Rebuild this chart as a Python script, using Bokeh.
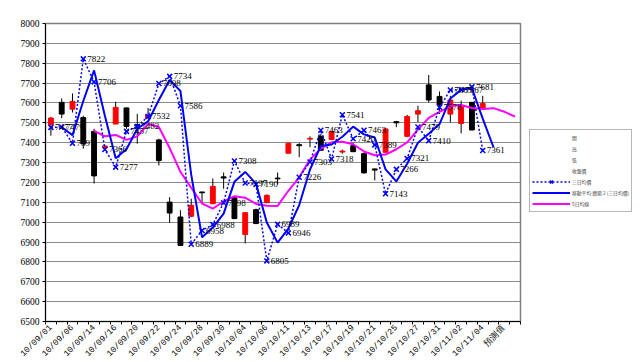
from math import pi
from bokeh.plotting import figure
from bokeh.models import FixedTicker, Legend, LegendItem, Range1d
from bokeh.core.properties import value
from bokeh.embed import file_html
from bokeh.resources import INLINE

# category tick labels (one every second category)
tick_labels = ["10/09/01", "10/09/06", "10/09/14", "10/09/16", "10/09/20", "10/09/22",
               "10/09/24", "10/09/28", "10/09/30", "10/10/04", "10/10/06", "10/10/11",
               "10/10/13", "10/10/17", "10/10/19", "10/10/21", "10/10/25", "10/10/27",
               "10/10/31", "10/11/02", "10/11/04", "預測值"]
n_categories = 44

# candles
opens = [7491, 7603, 7569, 7527, 7457, 7375, 7494, 7575, 7490, 7525, 7414, 7101, 7026, 7030,
         7152, 7093, 7228, 7123, 6938, 7063, 7098, 7222, 7347, 7390, 7418, 7432, 7416, 7353,
         7385, 7345, 7268, 7352, 7506, 7432, 7544, 7691, 7633, 7544, 7497, 7603, 7574]
highs = [7530, 7623, 7648, 7536, 7470, 7390, 7606, 7578, 7545, 7575, 7420, 7126, 7060, 7118,
         7152, 7220, 7250, 7125, 7050, 7068, 7140, 7250, 7399, 7398, 7432, 7445, 7460, 7365,
         7400, 7350, 7270, 7475, 7510, 7540, 7586, 7741, 7658, 7636, 7611, 7605, 7636]
lows = [7435, 7524, 7552, 7370, 7195, 7368, 7494, 7470, 7395, 7520, 7285, 6996, 6880, 7025,
        7101, 7090, 7168, 7015, 6893, 6990, 7098, 7190, 7347, 7327, 7378, 7360, 7414, 7345,
        7352, 7245, 7210, 7350, 7478, 7428, 7502, 7603, 7544, 7502, 7447, 7462, 7570]
closes = [7524, 7544, 7608, 7394, 7233, 7383, 7578, 7482, 7485, 7540, 7310, 7046, 6883, 7085,
          7148, 7180, 7222, 7018, 7048, 6993, 7135, 7218, 7397, 7385, 7422, 7362, 7456, 7358,
          7355, 7248, 7262, 7469, 7500, 7532, 7561, 7615, 7590, 7615, 7581, 7464, 7597]

# three-day average (dotted, labelled), starts at category 0
avg3 = [7477, 7479, 7397, 7822, 7706, 7366, 7277, 7457, 7482, 7532, 7698, 7734, 7586, 6889,
        6958, 6988, 7098, 7308, 7197, 7190, 6805, 6989, 6946, 7226, 7303, 7463, 7318, 7541,
        7420, 7463, 7389, 7143, 7266, 7321, 7479, 7410, 7578, 7665, 7667, 7681, 7361]
avg3_start = 0

# 2-period moving average of avg3 (solid blue), starts at category 1
ma2 = [7478, 7438, 7610, 7764, 7536, 7322, 7367, 7470, 7507, 7615, 7716, 7660, 7238, 6924,
       6973, 7043, 7203, 7253, 7194, 6998, 6897, 6968, 7086, 7265, 7383, 7391, 7430, 7481,
       7442, 7426, 7266, 7205, 7294, 7400, 7445, 7494, 7622, 7666, 7674, 7521, 7377]
ma2_start = 1

# 5-day average (magenta), starts at category 4
ma5 = [7460, 7432, 7439, 7414, 7432, 7494, 7479, 7373, 7253, 7173, 7094, 7068, 7104, 7131,
       7123, 7092, 7083, 7082, 7158, 7226, 7315, 7370, 7402, 7405, 7392, 7356, 7337, 7340,
       7367, 7402, 7466, 7525, 7555, 7583, 7590, 7575, 7570, 7574, 7556, 7531]
ma5_start = 4

series_names = ["開", "高", "低", "收盤價", "三日均價", "移動平均 週期 2 (三日均價)", "5日均線"]

y_ticks = list(range(6500, 8001, 100))

NUM_FONT = "Liberation Serif"

p = figure(frame_width=475, frame_height=298, output_backend="svg", toolbar_location=None,
           x_range=Range1d(-0.5, n_categories - 0.5), y_range=Range1d(6500, 8000),
           min_border_left=45, min_border_right=112, min_border_top=23, min_border_bottom=37)
p.background_fill_color = "white"
p.border_fill_color = "white"
p.outline_line_color = "#808080"
p.outline_line_width = 1.5

# axes
major = list(range(0, 2 * len(tick_labels), 2))
minor = [i - 0.5 for i in range(n_categories + 1)]
p.xaxis.ticker = FixedTicker(ticks=major, minor_ticks=minor)
p.xaxis.major_label_overrides = {m: lab for m, lab in zip(major, tick_labels)}
p.xaxis.major_label_orientation = pi / 4
p.xaxis.major_tick_out = 0
p.xaxis.major_tick_in = 0
p.xaxis.minor_tick_out = 3
p.xaxis.minor_tick_in = 0
p.xaxis.minor_tick_line_color = "black"
p.xaxis.axis_line_color = "black"
p.xaxis.major_label_text_font = "Liberation Mono"
p.xaxis.major_label_text_font_size = "8.5px"
p.xaxis.major_label_standoff = 2
p.xaxis.major_label_text_color = "black"

p.yaxis.ticker = FixedTicker(ticks=y_ticks)
p.yaxis.minor_tick_line_color = None
p.yaxis.major_tick_out = 3
p.yaxis.major_tick_in = 0
p.yaxis.axis_line_color = "black"
p.yaxis.major_label_text_font = NUM_FONT
p.yaxis.major_label_text_font_size = "9.5px"
p.yaxis.major_label_standoff = 3
p.yaxis.major_label_text_color = "black"

p.xgrid.grid_line_color = None
p.ygrid.ticker = FixedTicker(ticks=y_ticks)
p.ygrid.grid_line_color = "#8a8a8a"
p.ygrid.grid_line_width = 1

# candles
cx = list(range(len(opens)))
tops = [max(o, c) for o, c in zip(opens, closes)]
bots = [min(o, c) for o, c in zip(opens, closes)]
cols = ["#ff0000" if c > o else "#000000" for o, c in zip(opens, closes)]
p.segment(x0=cx, y0=highs, x1=cx, y1=lows, line_color="#000000", line_width=1)
p.vbar(x=cx, width=0.45, top=tops, bottom=bots, fill_color=cols, line_color=cols)

# 5-day average
r_ma5 = p.line(x=list(range(ma5_start, ma5_start + len(ma5))), y=ma5,
               line_color="#ff00ff", line_width=2)

# three-day average
a3x = list(range(avg3_start, avg3_start + len(avg3)))
r_a3l = p.line(x=a3x, y=avg3, line_color="#0000ff", line_width=1.5, line_dash="2 2")
r_a3m = p.scatter(x=a3x, y=avg3, marker="x", size=7, line_color="#0000ff", line_width=1.5)

# 2-period moving average
r_ma2 = p.line(x=list(range(ma2_start, ma2_start + len(ma2))), y=ma2,
               line_color="#0000ff", line_width=2)

# data labels
p.text(x=a3x, y=avg3, text=[str(v) for v in avg3], x_offset=4, text_baseline="middle",
       text_align="left", text_font=value(NUM_FONT), text_font_size="9px", text_color="black")

# legend
dummies = [p.line(x=[0, 0], y=[6400, 6400], line_alpha=0) for _ in range(4)]
items = [LegendItem(label=series_names[i], renderers=[dummies[i]]) for i in range(4)]
items.append(LegendItem(label=series_names[4], renderers=[r_a3l, r_a3m]))
items.append(LegendItem(label=series_names[5], renderers=[r_ma2]))
items.append(LegendItem(label=series_names[6], renderers=[r_ma5]))
legend = Legend(items=items, location=(9, 109), orientation="vertical",
                label_text_font="Noto Sans CJK TC", label_text_font_size="4.8px",
                glyph_width=38, glyph_height=11, label_height=11, label_standoff=2,
                spacing=0, padding=2, margin=0, border_line_color="#707070",
                border_line_width=1, background_fill_color="white")
p.add_layout(legend, "right")

open("out.html", "w").write(file_html(p, INLINE))
